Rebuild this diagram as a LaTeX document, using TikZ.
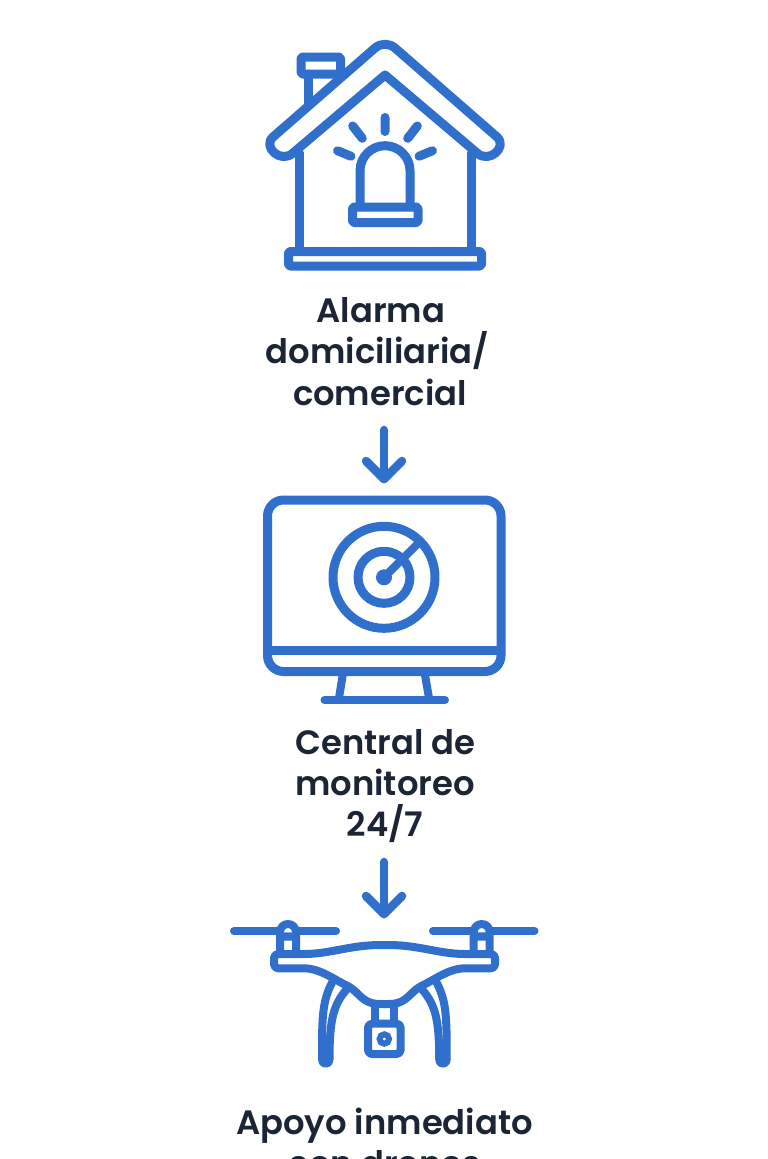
\documentclass[tikz,border=0pt]{standalone}
\usepackage{fontspec}
\setmainfont{Poppins SemiBold}
\usetikzlibrary{arrows.meta,calc}
\definecolor{iconblue}{HTML}{3070CC}
\definecolor{inkdark}{HTML}{1B2534}
\tikzset{
  ico/.style={draw=iconblue,line width=9pt,line cap=round,line join=round},
  thin ico/.style={draw=iconblue,line width=8pt,line cap=round,line join=round},
  lbl/.style={text=inkdark,font=\fontsize{33.8}{41}\selectfont,anchor=base,inner sep=0pt},
  flow/.style={draw=iconblue,line width=8.5pt,line cap=round,line join=round},
}
\begin{document}
\begin{tikzpicture}[x=1pt,y=-1pt]
\useasboundingbox (0,0) rectangle (768,1159);
\clip (0,0) rectangle (768,1159);
\fill[white] (0,0) rectangle (768,1159);
% house
\draw[ico] (308,74) -- (308,106);
\draw[ico,rounded corners=2pt] (301,57) rectangle (340.5,74);
\draw[ico,fill=white] (293,153) -- (385,75) -- (477,153)
  .. controls (489,164) and (508,147) .. (497,137)
  -- (395,48) .. controls (389,43) and (381,43) .. (375,48)
  -- (273,137) .. controls (262,147) and (281,164) .. (293,153) -- cycle;
\draw[ico] (299,153) -- (299,251) (471.5,153) -- (471.5,251);
\draw[ico,rounded corners=2pt] (288.5,251.5) rectangle (481.5,266);
\draw[ico] (360,207) -- (360,170.7) arc[start angle=180,end angle=360,radius=25] -- (410,207);
\draw[ico,rounded corners=2pt] (352.5,207) rectangle (418,222.5);
\draw[ico] (385,117.5) -- (385,131.5) (352.7,126) -- (362.3,138.3) (417.3,126) -- (407.7,138.3)
  (337.5,150.7) -- (351,156.3) (432.5,150.7) -- (419,156.3);
% monitor
\draw[ico,rounded corners=16pt] (267.5,500) rectangle (501,671.5);
\draw[draw=iconblue,line width=9pt] (267.5,650.7) -- (501,650.7);
\draw[thin ico,line cap=butt] (342.7,675) -- (339,698) (425,675) -- (429,698);
\draw[thin ico] (324.5,700) -- (445,700);
\draw[ico] (384,577.3) circle[radius=51];
\draw[ico] (384,577.3) circle[radius=26];
\fill[iconblue] (384,577.3) circle[radius=8];
\draw[thin ico,line cap=butt] (384,577.3) -- (418.5,543);
% drone
\draw[thin ico] (234,931) -- (280,931) (296,931) -- (336,931) (433,931) -- (473.7,931) (489.7,931) -- (534.5,931);
\draw[thin ico] (280,950) -- (280,932) arc[start angle=180,end angle=360,radius=8] -- (296,950);
\draw[thin ico] (473.7,950) -- (473.7,932) arc[start angle=180,end angle=360,radius=8] -- (489.7,950);
\fill[iconblue] (280,932.3) rectangle (296,940.7) (473.7,932.3) rectangle (489.7,940.7);
\draw[thin ico,rounded corners=4pt] (274,954) -- (274,968.3) -- (300,968.3)
  .. controls (320,968.3) and (335,980) .. (350,987)
  .. controls (362,997) and (365,1004) .. (384.5,1004)
  .. controls (404,1004) and (407,997) .. (419,987)
  .. controls (434,980) and (449,968.3) .. (469,968.3)
  -- (495,968.3) -- (495,954) -- (469,954)
  .. controls (439,954) and (419,945) .. (384.5,945)
  .. controls (350,945) and (330,954) .. (300,954) -- cycle;
\draw[thin ico,line cap=butt] (334,979) .. controls (322,1000) and (322,1015) .. (322,1060);
\draw[thin ico,line cap=butt] (347,989) .. controls (333,1005) and (329.5,1020) .. (329.5,1060);
\draw[thin ico] (322,1060) arc[start angle=180,end angle=0,radius=3.75];
\draw[thin ico,line cap=butt] (434.7,979) .. controls (446.7,1000) and (446.7,1015) .. (446.7,1060);
\draw[thin ico,line cap=butt] (421.7,989) .. controls (435.7,1005) and (439.2,1020) .. (439.2,1060);
\draw[thin ico] (439.2,1060) arc[start angle=180,end angle=0,radius=3.75];
\draw[thin ico,line cap=butt] (375,1005) -- (375,1023) (393.5,1005) -- (393.5,1023);
\draw[thin ico,rounded corners=4pt] (368,1023.7) rectangle (400.6,1054);
\draw[draw=iconblue,line width=6pt] (384.3,1039) circle[radius=4.7];
% labels
\node[lbl] (alarm1) at (381,322) {Alarma};
\node[lbl] (alarm2) at (377.5,363) {domiciliaria/};
\node[lbl] (alarm3) at (380,405) {comercial};
\node[lbl] (central1) at (385.5,754) {Central de};
\node[lbl] (central2) at (385,795) {monitoreo};
\node[lbl] (central3) at (385,836) {24/7};
\node[lbl] (apoyo1) at (384.5,1134) {Apoyo inmediato};
\node[lbl] (apoyo2) at (385,1175) {con drones};
% connectors
\coordinate (arrowOneStart) at (384,430);
\coordinate (arrowOneEnd) at (384,479);
\coordinate (arrowTwoStart) at (384,862);
\coordinate (arrowTwoEnd) at (384,914);
\coordinate (oneL) at (366,461);
\coordinate (oneR) at (402,461);
\coordinate (twoL) at (366,896);
\coordinate (twoR) at (402,896);
\draw[flow] (arrowOneStart) -- (arrowOneEnd);
\draw[flow] (oneL) -- (arrowOneEnd) -- (oneR);
\draw[flow] (arrowTwoStart) -- (arrowTwoEnd);
\draw[flow] (twoL) -- (arrowTwoEnd) -- (twoR);
\end{tikzpicture}
\end{document}
